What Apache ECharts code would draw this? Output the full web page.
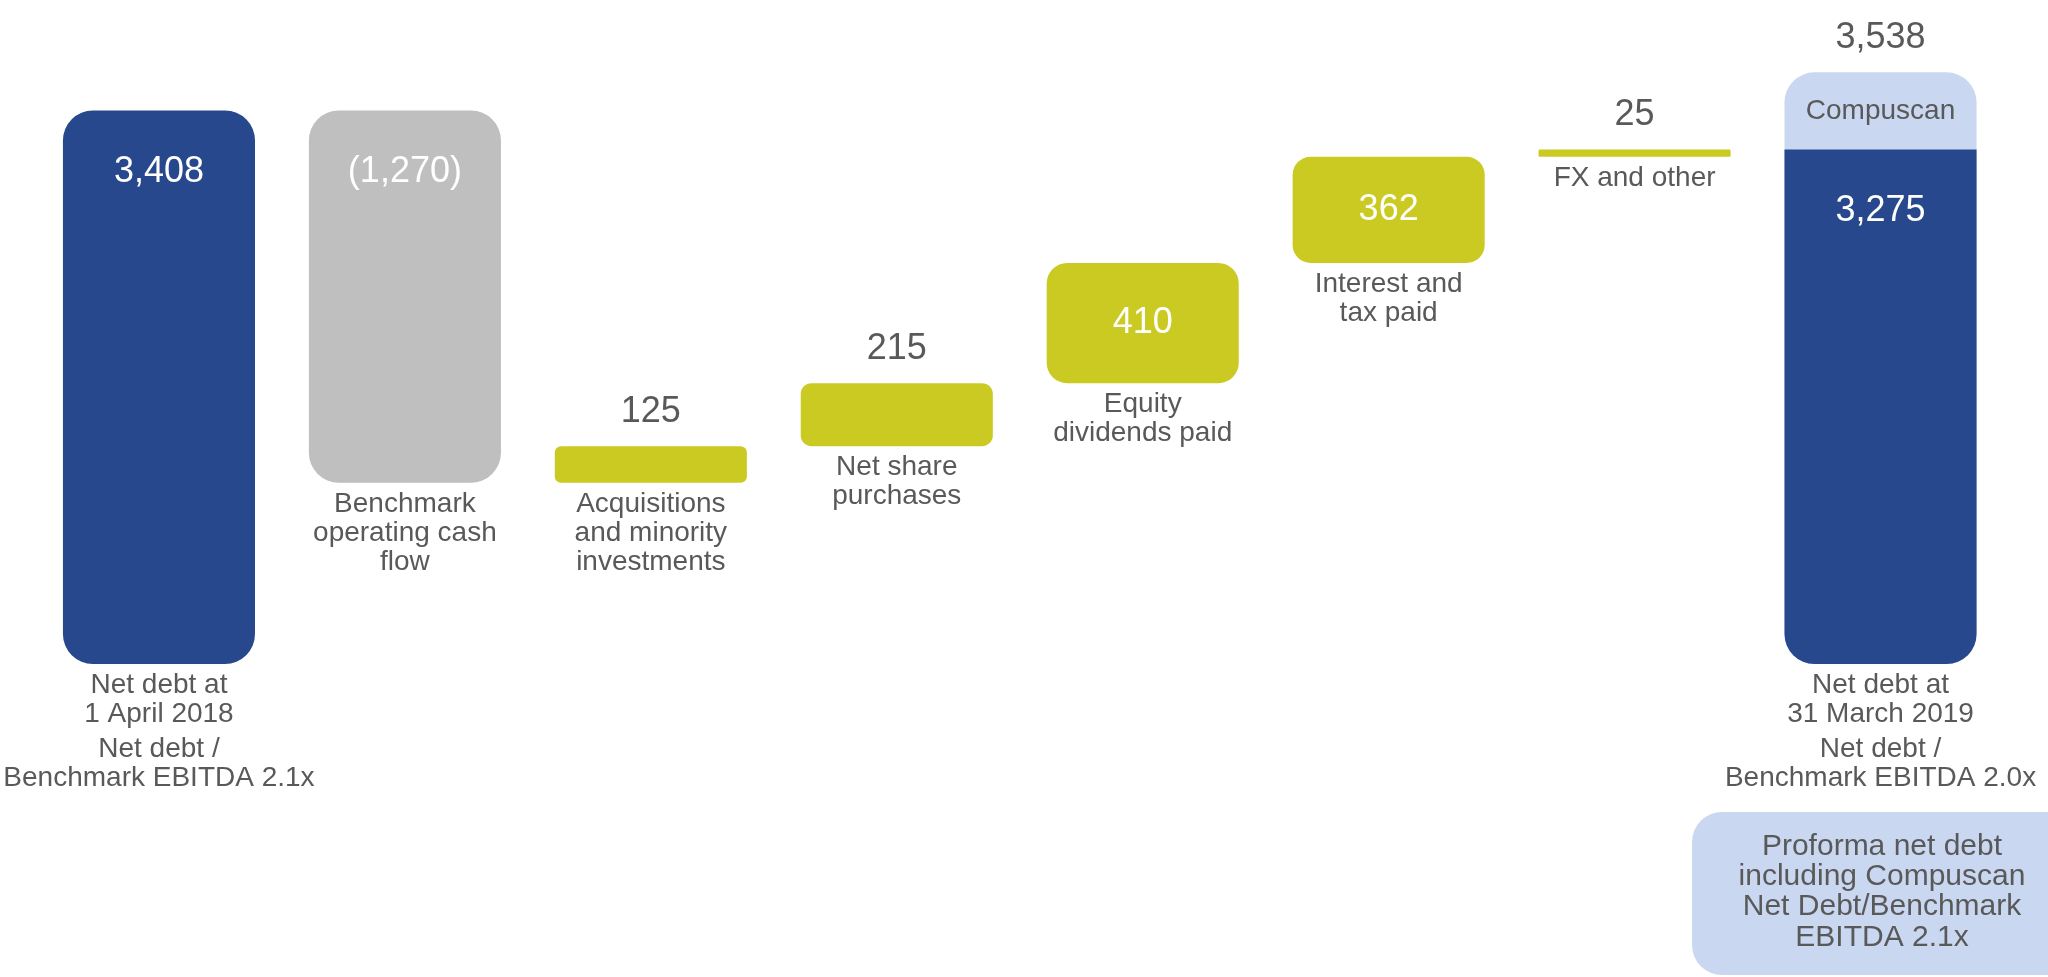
<!DOCTYPE html>
<html>
<head>
<meta charset="utf-8">
<style>
  html, body { margin: 0; padding: 0; background: #fff; }
  #chart { width: 2048px; height: 977px; }
</style>
<script src="https://cdn.jsdelivr.net/npm/echarts@6/dist/echarts.min.js"></script>
</head>
<body>
<div id="chart"></div>
<script>
// net debt bridge, £m
const categories = [
  'Net debt at\n1 April 2018',
  'Benchmark\noperating cash\nflow',
  'Acquisitions\nand minority\ninvestments',
  'Net share\npurchases',
  'Equity\ndividends paid',
  'Interest and\ntax paid',
  'FX and other',
  'Net debt at\n31 March 2019'
];
const changes = [3408, -1270, 125, 215, 410, 362, 25, 3275];
const valueLabels = ['3,408', '(1,270)', '125', '215', '410', '362', '25', '3,275'];
const isTotal = [true, false, false, false, false, false, false, true];
const ratioLabels = [
  'Net debt /\nBenchmark EBITDA 2.1x', '', '', '', '', '', '',
  'Net debt /\nBenchmark EBITDA 2.0x'
];
const compuscan = 263; // 3,538 - 3,275
const compuscanLabel = 'Compuscan';
const proformaLabel = '3,538';
const proformaNote = 'Proforma net debt\nincluding Compuscan\nNet Debt/Benchmark\nEBITDA 2.1x';

const Y_MIN = 1520, Y_MAX = 3720;
const FONT = '"Liberation Sans", Arial, Helvetica, sans-serif';
const DARK = '#27488C', GREY = '#BFBFBF', OLIVE = '#CBCA23', LIGHT = '#CAD7F0', TEXT = '#595959';
const LAST = categories.length - 1;

// waterfall rows: [index, low, high]
let running = 0;
const rows = changes.map((v, i) => {
  if (isTotal[i]) { running = v; return [i, 0, v]; }
  const lo = Math.min(running, running + v), hi = Math.max(running, running + v);
  running += v;
  return [i, lo, hi];
});

function txt(x, y, text, size, fill, va, lh) {
  return {
    type: 'text', x: x, y: y,
    style: {
      text: text, fill: fill, font: size + 'px ' + FONT,
      align: 'center', verticalAlign: va, lineHeight: lh || size
    }
  };
}

function renderItem(params, api) {
  const i = api.value(0);
  const lo = Math.max(api.value(1), Y_MIN);
  const hi = api.value(2);
  const w = api.size([1, 0])[0] * 0.781;
  const pTop = api.coord([i, hi]);
  const pBot = api.coord([i, lo]);
  const cx = pTop[0], x = cx - w / 2, yTop = pTop[1], yBot = pBot[1], h = yBot - yTop;
  const children = [];

  if (i === LAST) {
    const yPro = api.coord([i, hi + compuscan])[1];
    children.push({ type: 'rect', shape: { x: x, y: yPro, width: w, height: yBot - yPro, r: 30 }, style: { fill: LIGHT } });
    children.push({ type: 'rect', shape: { x: x, y: yTop, width: w, height: h, r: [0, 0, 30, 30] }, style: { fill: DARK } });
    children.push(txt(cx, (yPro + yTop) / 2, compuscanLabel, 28, TEXT, 'middle'));
    children.push(txt(cx, yPro - 34, proformaLabel, 36, TEXT, 'middle'));
    children.push(txt(cx, yTop + 62, valueLabels[i], 36, '#fff', 'middle'));
  } else {
    const color = isTotal[i] ? DARK : (changes[i] < 0 ? GREY : OLIVE);
    children.push({ type: 'rect', shape: { x: x, y: yTop, width: w, height: h, r: Math.min(30, h * 0.17) }, style: { fill: color } });
    if (h > 300) children.push(txt(cx, yTop + 62, valueLabels[i], 36, '#fff', 'middle'));
    else if (h > 80) children.push(txt(cx, yTop + h / 2, valueLabels[i], 36, '#fff', 'middle'));
    else children.push(txt(cx, yTop - 34, valueLabels[i], 36, TEXT, 'middle'));
  }

  // category label under the bar, ratio note below it
  const catTop = yBot + 7;
  children.push(txt(cx, catTop, categories[i], 28, TEXT, 'top', 29));
  if (ratioLabels[i]) {
    const n = categories[i].split('\n').length;
    children.push(txt(cx, catTop + n * 29 + 6, ratioLabels[i], 28, TEXT, 'top', 29));
  }
  return { type: 'group', children: children };
}

const chart = echarts.init(document.getElementById('chart'));
chart.setOption({
  animation: false,
  backgroundColor: '#fff',
  grid: { left: 36, right: 44.5, top: 19, bottom: 313 },
  xAxis: { type: 'category', data: categories, show: false },
  yAxis: { type: 'value', min: Y_MIN, max: Y_MAX, show: false },
  series: [{
    type: 'custom',
    renderItem: renderItem,
    encode: { x: 0, y: [1, 2] },
    data: rows
  }],
  graphic: [{
    type: 'group', left: 1692, top: 812,
    children: [
      { type: 'rect', shape: { x: 0, y: 0, width: 390, height: 163, r: 30 }, style: { fill: LIGHT } },
      {
        type: 'text', x: 190, y: 80,
        style: {
          text: proformaNote, fill: TEXT, font: '30px ' + FONT,
          align: 'center', verticalAlign: 'middle', lineHeight: 30.3
        }
      }
    ]
  }]
});
</script>
</body>
</html>
